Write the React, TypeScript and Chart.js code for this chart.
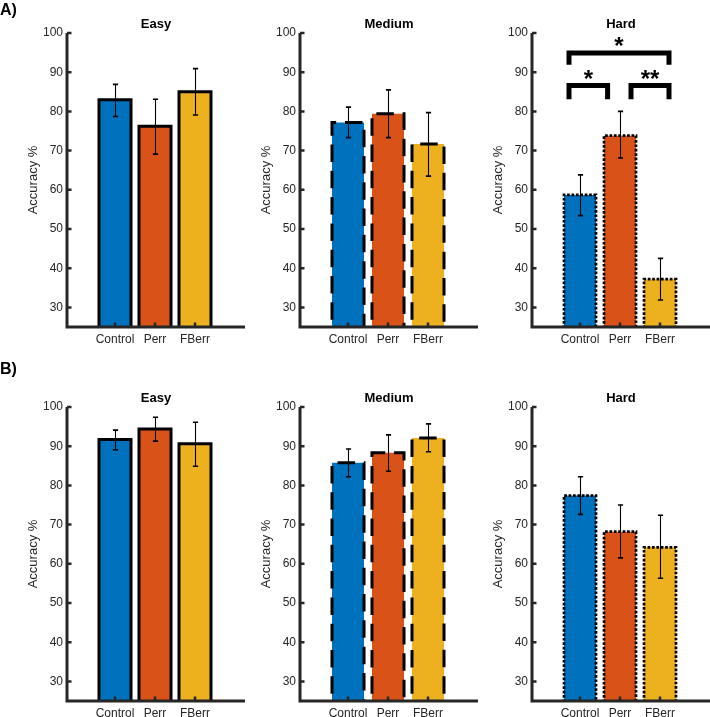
import React, { useEffect, useRef } from 'react';
import { Chart, registerables } from 'chart.js';

Chart.register(...registerables);

// ---------- data ----------
const categories = ['Control', 'Perr', 'FBerr'];
const categoryPositions = [1, 2, 3];
const yTickValues = [30, 40, 50, 60, 70, 80, 90, 100];
const difficulties = ['Easy', 'Medium', 'Hard'];
const rowLabels = ['A)', 'B)'];
const barColors = ['#0072BD', '#D95319', '#EDB120'];

// Row A
const aEasyMean = [83.0, 76.2, 85.0];
const aEasyLow = [78.7, 69.1, 79.1];
const aEasyHigh = [86.9, 83.1, 90.9];
const aMediumMean = [77.2, 79.4, 71.7];
const aMediumLow = [73.3, 73.3, 63.5];
const aMediumHigh = [81.1, 85.5, 79.7];
const aHardMean = [58.7, 73.8, 37.2];
const aHardLow = [53.4, 68.1, 31.9];
const aHardHigh = [63.8, 80.0, 42.5];

// Row B
const bEasyMean = [91.7, 94.4, 90.6];
const bEasyLow = [89.1, 91.3, 84.9];
const bEasyHigh = [94.1, 97.4, 96.1];
const bMediumMean = [85.8, 88.3, 92.1];
const bMediumLow = [82.2, 83.6, 88.6];
const bMediumHigh = [89.3, 92.9, 95.7];
const bHardMean = [77.4, 68.2, 64.2];
const bHardLow = [72.6, 61.5, 56.3];
const bHardHigh = [82.2, 75.0, 72.4];

// Significance brackets (row A, Hard)
const bracketStarts = [0.725, 0.725, 2.275];
const bracketEnds = [3.225, 1.69, 3.225];
const bracketTops = [94.9, 86.6, 86.6];
const bracketFeet = [91.9, 83.1, 83.1];
const bracketLabels = ['*', '*', '**'];
const bracketLabelLevels = [97.9, 89.3, 89.3];

// ---------- styles ----------
const FONT = "'Liberation Sans', Arial, Helvetica, sans-serif";
const AXIS_COLOR = '#262626';
const CANVAS_W = 245;
const COL_LEFTS = [0, 233, 465];
const ROW_TOPS = [0, 374];
const ROW_HEIGHTS = [370, 343];
const PLOT_TOP = 33;
const PLOT_BOTTOM = 327;
const EDGE_STYLES = [
  { width: 3, dash: [] as number[] },
  { width: 3, dash: [17.5, 8.8] },
  { width: 2.7, dash: [2.7, 1.7] },
];

type PanelProps = {
  left: number;
  top: number;
  height: number;
  title: string;
  mean: number[];
  low: number[];
  high: number[];
  edge: { width: number; dash: number[] };
  brackets: boolean;
};

function Panel({ left, top, height, title, mean, low, high, edge, brackets }: PanelProps) {
  const ref = useRef<HTMLCanvasElement | null>(null);

  useEffect(() => {
    const canvas = ref.current;
    if (!canvas) return;

    const overlay = {
      id: 'overlay',
      afterDatasetsDraw(chart: any) {
        const { ctx, chartArea: ca } = chart;
        const xs = chart.scales.x;
        const ys = chart.scales.y;
        const meta = chart.getDatasetMeta(0);

        // bar edges
        ctx.save();
        ctx.beginPath();
        ctx.rect(ca.left, ca.top - 30, ca.right - ca.left, ca.bottom - ca.top + 30);
        ctx.clip();
        ctx.strokeStyle = '#000';
        ctx.lineWidth = edge.width;
        ctx.setLineDash(edge.dash);
        ctx.lineCap = 'butt';
        ctx.lineJoin = 'miter';
        const zero = ys.getPixelForValue(0);
        meta.data.forEach((bar: any) => {
          const p = bar.getProps(['x', 'y', 'width'], true);
          const l = p.x - p.width / 2;
          const r = p.x + p.width / 2;
          ctx.beginPath();
          ctx.moveTo(l, zero);
          ctx.lineTo(l, p.y);
          ctx.lineTo(r, p.y);
          ctx.lineTo(r, zero);
          ctx.stroke();
        });
        ctx.restore();

        // error bars
        ctx.save();
        ctx.strokeStyle = '#000';
        ctx.setLineDash([]);
        categoryPositions.forEach((c, i) => {
          const px = Math.round(xs.getPixelForValue(c)) + 0.5;
          const yl = ys.getPixelForValue(low[i]);
          const yh = ys.getPixelForValue(high[i]);
          ctx.lineWidth = 1.1;
          ctx.beginPath();
          ctx.moveTo(px, yl);
          ctx.lineTo(px, yh);
          ctx.stroke();
          ctx.lineWidth = 1.6;
          ctx.beginPath();
          ctx.moveTo(px - 2.6, yl);
          ctx.lineTo(px + 2.6, yl);
          ctx.moveTo(px - 2.6, yh);
          ctx.lineTo(px + 2.6, yh);
          ctx.stroke();
        });
        ctx.restore();

        // axes
        ctx.save();
        ctx.strokeStyle = AXIS_COLOR;
        ctx.lineWidth = 3;
        ctx.lineJoin = 'miter';
        ctx.lineCap = 'butt';
        ctx.beginPath();
        ctx.moveTo(ca.left, ca.top);
        ctx.lineTo(ca.left, ca.bottom);
        ctx.lineTo(ca.right, ca.bottom);
        ctx.stroke();
        ctx.lineWidth = 2.5;
        ctx.beginPath();
        yTickValues.forEach((v) => {
          const py = ys.getPixelForValue(v);
          ctx.moveTo(ca.left, py);
          ctx.lineTo(ca.left + 4.5, py);
        });
        categoryPositions.forEach((c) => {
          const px = xs.getPixelForValue(c);
          ctx.moveTo(px, ca.bottom);
          ctx.lineTo(px, ca.bottom - 4.5);
        });
        ctx.stroke();
        ctx.restore();

        // significance brackets
        if (brackets) {
          ctx.save();
          ctx.strokeStyle = '#000';
          ctx.fillStyle = '#000';
          ctx.lineWidth = 5;
          ctx.lineJoin = 'miter';
          ctx.lineCap = 'butt';
          bracketStarts.forEach((s, i) => {
            const x0 = xs.getPixelForValue(s);
            const x1 = xs.getPixelForValue(bracketEnds[i]);
            const yt = ys.getPixelForValue(bracketTops[i]);
            const yf = ys.getPixelForValue(bracketFeet[i]);
            ctx.beginPath();
            ctx.moveTo(x0, yf);
            ctx.lineTo(x0, yt);
            ctx.lineTo(x1, yt);
            ctx.lineTo(x1, yf);
            ctx.stroke();
          });
          ctx.font = `bold 24px ${FONT}`;
          ctx.textAlign = 'center';
          ctx.textBaseline = 'alphabetic';
          bracketLabels.forEach((lab, i) => {
            const m = ctx.measureText(lab);
            const cx = xs.getPixelForValue((bracketStarts[i] + bracketEnds[i]) / 2);
            const cy = ys.getPixelForValue(bracketLabelLevels[i]);
            const base = cy + (m.actualBoundingBoxAscent - m.actualBoundingBoxDescent) / 2;
            ctx.fillText(lab, cx, base);
          });
          ctx.restore();
        }

        // title
        ctx.save();
        ctx.fillStyle = '#000';
        ctx.font = `bold 13px ${FONT}`;
        ctx.textAlign = 'center';
        ctx.textBaseline = 'alphabetic';
        ctx.fillText(title, (ca.left + ca.right) / 2, ca.top - 4.8);
        ctx.restore();
      },
    };

    const chart = new Chart(canvas, {
      type: 'bar',
      data: {
        datasets: [
          {
            data: categoryPositions.map((c, i) => ({ x: c, y: mean[i] })),
            backgroundColor: barColors,
            borderWidth: 0,
            barPercentage: 0.8,
            categoryPercentage: 1,
          },
        ],
      },
      options: {
        responsive: false,
        animation: false,
        devicePixelRatio: 1,
        layout: { padding: { top: PLOT_TOP, left: 0, right: 0, bottom: 0 } },
        plugins: {
          legend: { display: false },
          tooltip: { enabled: false },
          title: { display: false },
        },
        scales: {
          x: {
            type: 'linear',
            min: -0.2,
            max: 4.25,
            offset: false,
            grid: { display: false, drawTicks: false },
            border: { display: false },
            afterBuildTicks: (s: any) => {
              s.ticks = categoryPositions.map((v) => ({ value: v }));
            },
            afterFit: (s: any) => {
              s.height = height - PLOT_BOTTOM;
            },
            ticks: {
              autoSkip: false,
              maxRotation: 0,
              padding: 5,
              color: AXIS_COLOR,
              font: { family: FONT, size: 12 },
              callback: (_v: any, i: number) => categories[i],
            },
          },
          y: {
            type: 'linear',
            min: 25,
            max: 100,
            grid: { display: false, drawTicks: false },
            border: { display: false },
            afterBuildTicks: (s: any) => {
              s.ticks = yTickValues.map((v) => ({ value: v }));
            },
            afterFit: (s: any) => {
              s.width = 67;
            },
            ticks: {
              padding: 4,
              color: AXIS_COLOR,
              font: { family: FONT, size: 12 },
            },
            title: {
              display: true,
              text: 'Accuracy %',
              color: AXIS_COLOR,
              font: { family: FONT, size: 13 },
              padding: { top: 26, bottom: 0 },
            },
          },
        },
      } as any,
      plugins: [overlay],
    });

    return () => chart.destroy();
  }, []);

  return (
    <canvas
      ref={ref}
      width={CANVAS_W}
      height={height}
      style={{ position: 'absolute', left, top, width: CANVAS_W, height }}
    />
  );
}

const rowData = [
  [
    { mean: aEasyMean, low: aEasyLow, high: aEasyHigh },
    { mean: aMediumMean, low: aMediumLow, high: aMediumHigh },
    { mean: aHardMean, low: aHardLow, high: aHardHigh },
  ],
  [
    { mean: bEasyMean, low: bEasyLow, high: bEasyHigh },
    { mean: bMediumMean, low: bMediumLow, high: bMediumHigh },
    { mean: bHardMean, low: bHardLow, high: bHardHigh },
  ],
];

const ROW_LABEL_TOPS = [1.5, 360.5];

export default function App() {
  return (
    <div
      style={{
        position: 'absolute',
        left: 0,
        top: 0,
        width: 710,
        height: 717,
        overflow: 'hidden',
        background: '#fff',
      }}
    >
      {rowData.map((row, r) =>
        row.map((p, c) => (
          <Panel
            key={`${r}-${c}`}
            left={COL_LEFTS[c]}
            top={ROW_TOPS[r]}
            height={ROW_HEIGHTS[r]}
            title={difficulties[c]}
            mean={p.mean}
            low={p.low}
            high={p.high}
            edge={EDGE_STYLES[c]}
            brackets={r === 0 && c === 2}
          />
        ))
      )}
      {rowLabels.map((lab, r) => (
        <div
          key={lab}
          style={{
            position: 'absolute',
            left: 0,
            top: ROW_LABEL_TOPS[r],
            font: `bold 16px ${FONT}`,
            lineHeight: '16px',
            color: '#000',
          }}
        >
          {lab}
        </div>
      ))}
    </div>
  );
}
